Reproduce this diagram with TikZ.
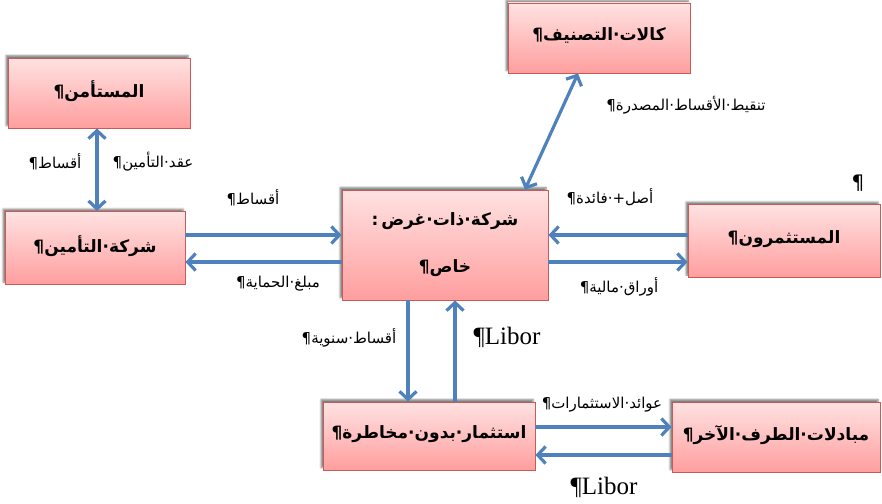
\documentclass[tikz,border=0pt]{standalone}
\usepackage{fontspec}
\TeXXeTstate=1
\newfontfamily\arabicfont[Script=Arabic]{DejaVu Sans}
\newfontfamily\arabicbold[Script=Arabic]{DejaVu Sans Bold}
\newfontfamily\latinserif{Liberation Serif}
\usetikzlibrary{arrows.meta,shadows.blur}
\newcommand{\ar}[1]{{\arabicfont\beginR #1\endR}}
\newcommand{\arb}[1]{{\arabicbold\beginR #1\endR}}
\newcommand{\bx}[1]{\raisebox{8pt}{\arb{#1}}\hspace{16pt}}
\newcommand{\sd}{\hbox{·}}
\newcommand{\pil}{\hbox{¶}}
\definecolor{arrblue}{RGB}{79,129,189}
\definecolor{boxline}{RGB}{200,90,88}
\definecolor{boxtop}{RGB}{255,226,226}
\definecolor{boxbot}{RGB}{255,158,158}
\begin{document}
\begin{tikzpicture}[x=1pt,y=-1pt,
  box/.style={draw=boxline, line width=0.9pt, top color=boxtop, bottom color=boxbot,
    blur shadow={shadow xshift=-2pt, shadow yshift=2.5pt, shadow blur steps=6, shadow opacity=50},
    inner sep=2pt, font=\fontsize{17}{21}\selectfont},
  lbl/.style={inner sep=1pt, font=\fontsize{15}{18}\selectfont},
  lib/.style={inner sep=1pt, font=\latinserif\fontsize{25}{28}\selectfont},
  >={Straight Barb[length=8pt,width=17pt]},
  arr/.style={draw=arrblue, line width=3.2pt, ->},
  arrb/.style={draw=arrblue, line width=3.2pt, <->}]
\useasboundingbox (0,0) rectangle (882,503);

% boxes
\node[box, minimum width=182, minimum height=70] (rate) at (599,38) {\bx{كالات\sd التصنيف\pil}};
\node[box, minimum width=182, minimum height=70] (insd) at (99,93) {\bx{المستأمن\pil}};
\node[box, minimum width=180, minimum height=73] (ins) at (95,248) {\bx{شركة\sd التأمين\pil}};
\node[box, minimum width=206, minimum height=110, align=center] (spv) at (445,245)
  {\arb{شركة\sd ذات\sd غرض\hbox{\,:}}\\[26pt]\arb{خاص\pil}};
\node[box, minimum width=192, minimum height=73] (inv) at (784,241) {\bx{المستثمرون\pil}};
\node[box, minimum width=212, minimum height=68] (rf) at (429,436) {\bx{استثمار\sd بدون\sd مخاطرة\pil}};
\node[box, minimum width=208, minimum height=70] (swp) at (776,437) {\bx{مبادلات\sd الطرف\sd الآخر\pil}};

% connectors
\draw[arrb] (insd.south -| 97,0) -- (ins.north -| 97,0);
\draw[arrb] (spv.north -| 525,0) -- (rate.south -| 578,0);
\draw[arr] (ins.east |- 0,235) -- (spv.west |- 0,235);
\draw[arr] (spv.west |- 0,262) -- (ins.east |- 0,262);
\draw[arr] (inv.west |- 0,235) -- (spv.east |- 0,235);
\draw[arr] (spv.east |- 0,262) -- (inv.west |- 0,262);
\draw[arr] (spv.south -| 408,0) -- (rf.north -| 408,0);
\draw[arr] (rf.north -| 455,0) -- (spv.south -| 455,0);
\draw[arr] (rf.east |- 0,427) -- (swp.west |- 0,427);
\draw[arr] (swp.west |- 0,455) -- (rf.east |- 0,455);

% labels
\node[lbl] (l1) at (55,162) {\ar{أقساط\pil}};
\node[lbl] (l2) at (153,162) {\ar{عقد\sd التأمين\pil}};
\node[lbl] (l3) at (253,198) {\ar{أقساط\pil}};
\node[lbl] (l4) at (278,284) {\ar{مبلغ\sd الحماية\pil}};
\node[lbl] (l5) at (686,105) {\ar{تنقيط\sd الأقساط\sd المصدرة\pil}};
\node[lbl, font=\fontsize{20}{24}\selectfont] (l6) at (858,183) {\ar{\pil}};
\node[lbl] (l7) at (610,197) {\ar{أصل\hbox{+}\sd فائدة\pil}};
\node[lbl] (l8) at (619,287) {\ar{أوراق\sd مالية\pil}};
\node[lbl] (l9) at (349,338) {\ar{أقساط\sd سنوية\pil}};
\node[lib] (l10) at (507,337) {¶Libor};
\node[lbl] (l11) at (602,405) {\ar{عوائد\sd الاستثمارات\pil}};
\node[lib] (l12) at (604,487) {¶Libor};
\end{tikzpicture}
\end{document}
